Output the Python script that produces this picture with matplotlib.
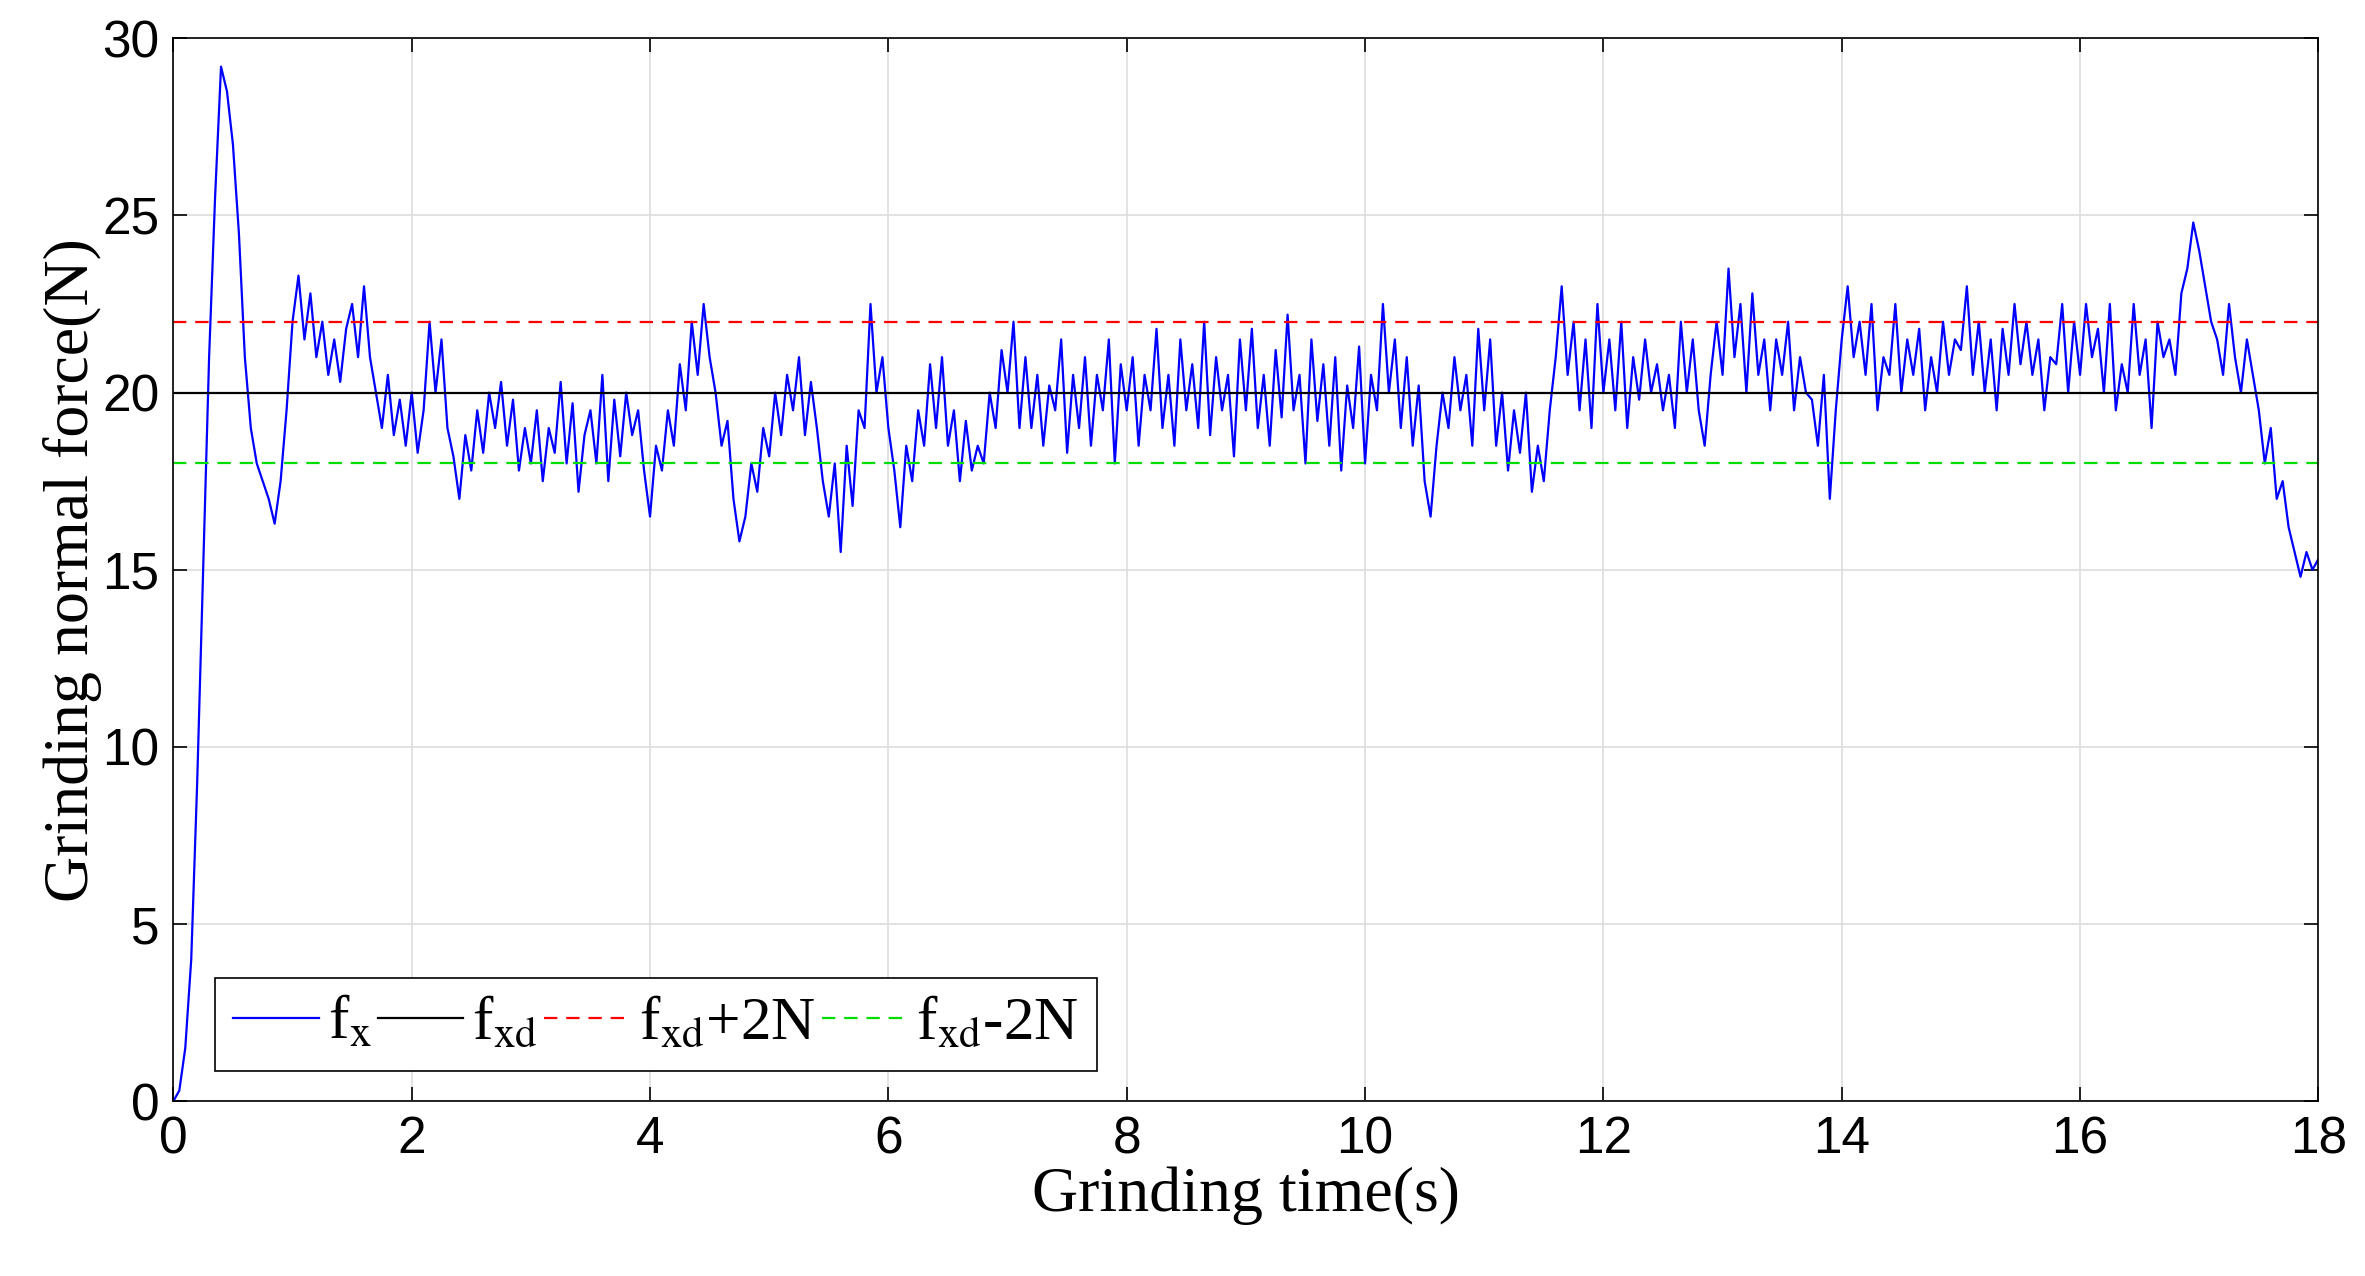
import numpy as np
import matplotlib
matplotlib.use("Agg")
import matplotlib.pyplot as plt

# measured force samples every 0.05 s, 0..18 s
fx = [
0,0.3,1.5,4,9,15,21,25.5,29.2,28.5,27,24.5,21,19,18,17.5,17,16.3,17.5,19.5,
22,23.3,21.5,22.8,21,22,20.5,21.5,20.3,21.8,22.5,21,23,21,20,19,20.5,18.8,19.8,18.5,
20,18.3,19.5,22,20,21.5,19,18.2,17,18.8,17.8,19.5,18.3,20,19,20.3,18.5,19.8,17.8,19,
18,19.5,17.5,19,18.3,20.3,18,19.7,17.2,18.8,19.5,18,20.5,17.5,19.8,18.2,20,18.8,19.5,17.8,
16.5,18.5,17.8,19.5,18.5,20.8,19.5,22,20.5,22.5,21,20,18.5,19.2,17,15.8,16.5,18,17.2,19,
18.2,20,18.8,20.5,19.5,21,18.8,20.3,19,17.5,16.5,18,15.5,18.5,16.8,19.5,19,22.5,20,21,
19,17.8,16.2,18.5,17.5,19.5,18.5,20.8,19,21,18.5,19.5,17.5,19.2,17.8,18.5,18,20,19,21.2,
20,22,19,21,19,20.5,18.5,20.2,19.5,21.5,18.3,20.5,19,21,18.5,20.5,19.5,21.5,18,20.8,
19.5,21,18.5,20.5,19.5,21.8,19,20.5,18.5,21.5,19.5,20.8,19,22,18.8,21,19.5,20.5,18.2,21.5,
19.5,21.8,19,20.5,18.5,21.2,19.3,22.2,19.5,20.5,18,21.5,19.2,20.8,18.5,21,17.8,20.2,19,21.3,
18,20.5,19.5,22.5,20,21.5,19,21,18.5,20.2,17.5,16.5,18.5,20,19,21,19.5,20.5,18.5,21.8,
19.5,21.5,18.5,20,17.8,19.5,18.3,20,17.2,18.5,17.5,19.5,21,23,20.5,22,19.5,21.5,19,22.5,
20,21.5,19.5,22,19,21,19.8,21.5,20,20.8,19.5,20.5,19,22,20,21.5,19.5,18.5,20.5,22,
20.5,23.5,21,22.5,20,22.8,20.5,21.5,19.5,21.5,20.5,22,19.5,21,20,19.8,18.5,20.5,17,19.5,
21.5,23,21,22,20.5,22.5,19.5,21,20.5,22.5,20,21.5,20.5,21.8,19.5,21,20,22,20.5,21.5,
21.2,23,20.5,22,20,21.5,19.5,21.8,20.5,22.5,20.8,22,20.5,21.5,19.5,21,20.8,22.5,20,22,
20.5,22.5,21,21.8,20,22.5,19.5,20.8,20,22.5,20.5,21.5,19,22,21,21.5,20.5,22.8,23.5,24.8,
24,23,22,21.5,20.5,22.5,21,20,21.5,20.5,19.5,18,19,17,17.5,16.2,15.5,14.8,15.5,15,
15.3]
t = np.arange(len(fx)) * 0.05
fxd = 20
band = 2
xticks = list(range(0, 19, 2))
yticks = list(range(0, 31, 5))

plt.rcParams["mathtext.fontset"] = "stix"
fig = plt.figure(figsize=(23.65, 12.76), dpi=100)
ax = fig.add_axes([0.0733, 0.137, 0.907, 0.833])
ax.plot(t, fx, color="#0000ff", lw=1.6, label=r"f$_{\mathrm{x}}$")
ax.axhline(fxd, color="k", lw=1.6, label=r"f$_{\mathrm{xd}}$")
ax.axhline(fxd + band, color="#ff0000", lw=1.6, ls=(0, (6, 4)), label=r"f$_{\mathrm{xd}}$+2N")
ax.axhline(fxd - band, color="#00dd00", lw=1.6, ls=(0, (6, 4)), label=r"f$_{\mathrm{xd}}$-2N")
ax.set_xlim(0, 18)
ax.set_ylim(0, 30)
ax.set_xticks(xticks)
ax.set_yticks(yticks)
ax.grid(True, color="#dddddd", lw=1.2)
ax.tick_params(direction="in", length=10, width=1.2, labelsize=37, top=True, right=True, pad=10)
for lab in ax.get_xticklabels() + ax.get_yticklabels():
    lab.set_fontfamily("Liberation Sans")
for s in ax.spines.values():
    s.set_linewidth(1.2)
ax.set_xlabel("Grinding time(s)", fontsize=46, fontfamily="Liberation Serif", labelpad=2)
ax.set_ylabel("Grinding normal force(N)", fontsize=46, fontfamily="Liberation Serif", labelpad=0)
leg = ax.legend(loc="lower left", ncol=4, prop={"family": "Liberation Serif", "size": 44},
                fancybox=False, edgecolor="k", framealpha=1, handlelength=1.4,
                handletextpad=0.15, columnspacing=0.1, borderaxespad=0.5,
                borderpad=0.3, bbox_to_anchor=(0.005, 0.0))
leg.get_frame().set_linewidth(1.2)
fig.savefig("out.png", dpi=100)
